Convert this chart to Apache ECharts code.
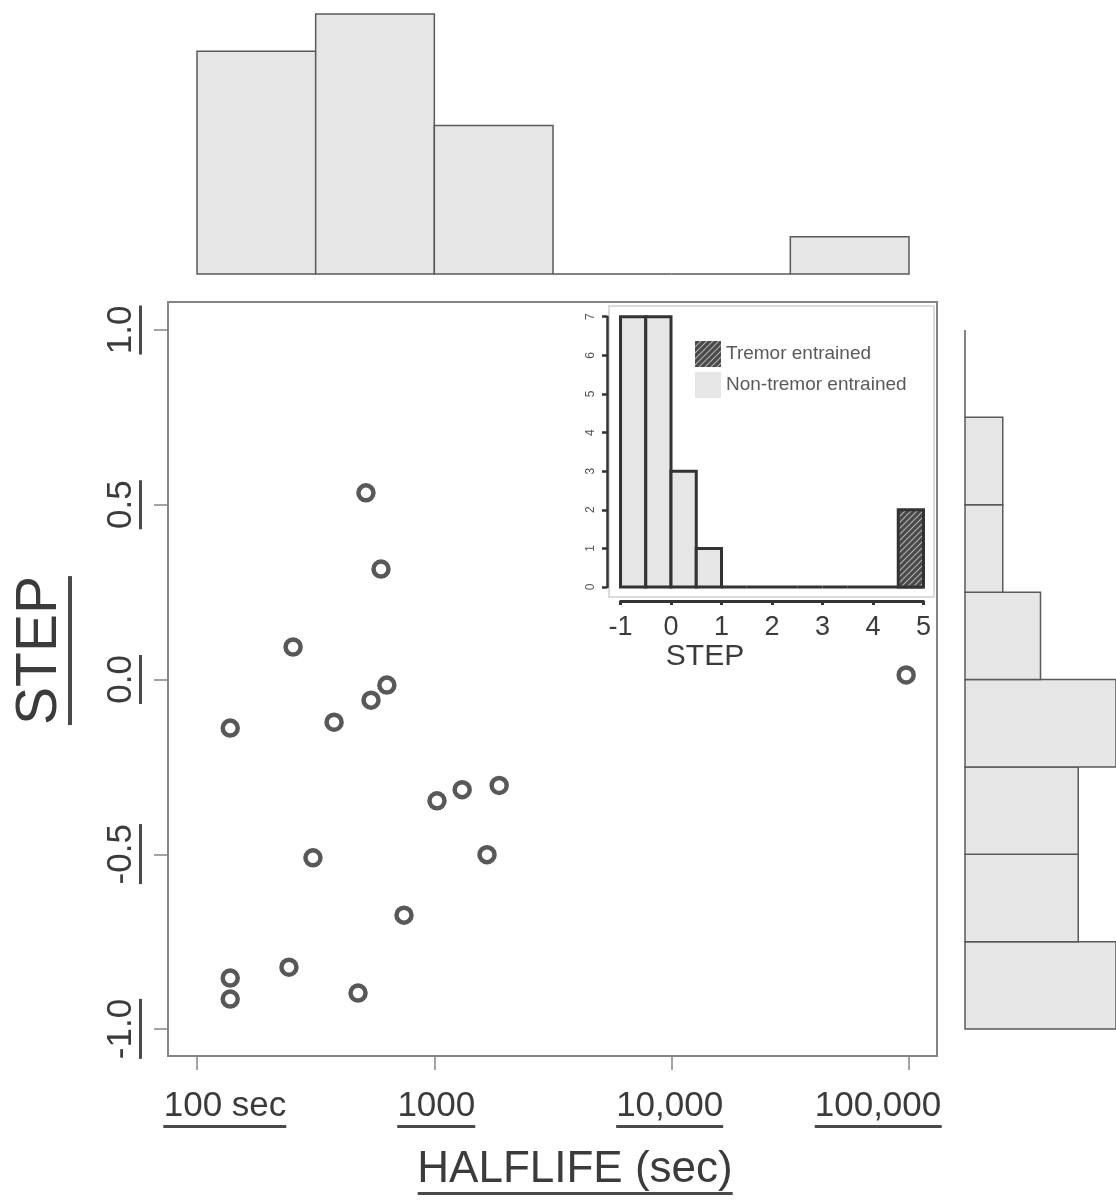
<!DOCTYPE html>
<html>
<head>
<meta charset="utf-8">
<script src="https://cdn.jsdelivr.net/npm/echarts@6/dist/echarts.min.js"></script>
<style>
  html, body { margin: 0; padding: 0; background: #fff; }
  #chart { width: 1116px; height: 1201px; }
</style>
</head>
<body>
<div id="chart"></div>
<script>
// scatter: half-life (sec) vs STEP
const halflife = [515, 596, 254, 631, 541, 378, 138, 1026, 1310, 1876, 1667, 308, 745, 244, 138, 138, 477, 97300]
const step = [0.534, 0.316, 0.093, -0.016, -0.059, -0.122, -0.139, -0.347, -0.315, -0.303, -0.501, -0.51, -0.674, -0.823, -0.854, -0.914, -0.897, 0.013]

// top histogram (log10 of half-life, half-decade bins)
const halflifeBinEdges = [2, 2.5, 3, 3.5, 4, 4.5, 5]
const halflifeCounts = [6, 7, 4, 0, 0, 1]

// right histogram (STEP, 0.25 bins)
const stepBinEdges = [-1, -0.75, -0.5, -0.25, 0, 0.25, 0.5, 0.75, 1]
const stepCounts = [4, 3, 3, 4, 2, 1, 1, 0]

// inset histogram (STEP, 0.5 bins)
const insetBinEdges = [-1, -0.5, 0, 0.5, 1, 1.5, 2, 2.5, 3, 3.5, 4, 4.5, 5]
const insetNonTremor = [7, 7, 3, 1, 0, 0, 0, 0, 0, 0, 0, 0]
const insetTremor = [0, 0, 0, 0, 0, 0, 0, 0, 0, 0, 0, 2]

// axis labels
const xTickValues = [100, 1000, 10000, 100000]
const xTickLabels = ['100 sec', '1000', '10,000', '100,000']
const xTickShift = [28, 2, -2, -31] // the outer labels sit inside the frame
const yTickValues = [-1, -0.5, 0, 0.5, 1]
const yTickLabels = ['-1.0', '-0.5', '0.0', '0.5', '1.0']

const FONT = '"Liberation Sans", Arial, sans-serif'
const TEXT = '#3b3b3b'
const ULINE = '#4a4a4a'
const FRAME = '#858585'
const HIST_FILL = '#e6e6e6'
const HIST_LINE = '#5a5a5a'
const INSET_LINE = '#333333'

const measureCtx = document.createElement('canvas').getContext('2d')
function textWidth(s, size) {
  measureCtx.font = size + 'px ' + FONT
  return Math.round(measureCtx.measureText(s).width)
}

// rich styles for underlined text; shift moves the text sideways (px)
function underlined(labels, size, lineH, thick, shifts) {
  const rich = {}
  labels.forEach((s, i) => {
    const sh = shifts ? shifts[i] : 0
    const align = sh < 0 ? 'left' : 'right'
    rich['t' + i] = {
      fontSize: size, lineHeight: lineH, color: TEXT, fontFamily: FONT, align: align,
      padding: sh < 0 ? [0, -2 * sh, 0, 0] : [0, 0, 0, 2 * sh],
    }
    rich['u' + i] = {
      width: textWidth(s, size), height: thick, lineHeight: thick,
      backgroundColor: ULINE, align: align, fontSize: 1,
    }
  })
  return rich
}
const ulText = (s, i) => '{t' + i + '|' + s + '}\n{u' + i + '| }'

// hatch pattern for tremor entrained bar
function hatch() {
  const c = document.createElement('canvas')
  c.width = 6
  c.height = 6
  const g = c.getContext('2d')
  g.fillStyle = '#4a4a4a'
  g.fillRect(0, 0, 6, 6)
  g.strokeStyle = '#b0b0b0'
  g.lineWidth = 1.1
  g.beginPath()
  g.moveTo(0, 6); g.lineTo(6, 0)
  g.moveTo(-3, 3); g.lineTo(3, -3)
  g.moveTo(3, 9); g.lineTo(9, 3)
  g.stroke()
  return { image: c, repeat: 'repeat' }
}
const HATCH = hatch()

// main plot range (a bit wider than the data, like R)
const xMin = 75.46
const xMax = 131230
const yMin = -1.077
const yMax = 1.08

const dummy = (i) => ({ type: 'value', gridIndex: i, show: false, min: 0, max: 1 })

function binRect(api, horizontal) {
  const p0 = horizontal ? api.coord([0, api.value(0)]) : api.coord([api.value(0), 0])
  const p1 = horizontal ? api.coord([api.value(2), api.value(1)]) : api.coord([api.value(1), api.value(2)])
  return { x: p0[0], y: p1[1], width: p1[0] - p0[0], height: p0[1] - p1[1] }
}

const chart = echarts.init(document.getElementById('chart'))

const option = {
  backgroundColor: '#fff',
  animation: false,
  textStyle: { fontFamily: FONT },
  grid: [
    { left: 168, top: 302, width: 769, height: 754, show: true, borderColor: FRAME, borderWidth: 2, backgroundColor: '#fff' },
    { left: 197, top: 1055, width: 712, height: 1 },
    { left: 168, top: 330, width: 1, height: 699 },
    { left: 168, top: 14, width: 769, height: 260 },
    { left: 965, top: 302, width: 151, height: 754 },
    { left: 609, top: 306, width: 325, height: 291, show: true, borderColor: '#cfcfcf', borderWidth: 1.5, backgroundColor: '#fff' },
    { left: 620.5, top: 600, width: 303, height: 1 },
    { left: 607, top: 316.7, width: 1, height: 270.3 },
  ],
  xAxis: [
    { type: 'log', gridIndex: 0, min: xMin, max: xMax, show: false },
    {
      type: 'log', gridIndex: 1, min: 100, max: 100000, position: 'bottom',
      axisLine: { show: false },
      axisTick: { length: 14, lineStyle: { color: FRAME, width: 1.5 } },
      splitLine: { show: false },
      axisLabel: {
        margin: 32,
        formatter: (v) => {
          const i = xTickValues.indexOf(Math.pow(10, Math.round(Math.log10(v))))
          return ulText(xTickLabels[i], i)
        },
        rich: underlined(xTickLabels, 35, 37, 3, xTickShift),
      },
      name: ulText('HALFLIFE (sec)', 0),
      nameLocation: 'middle',
      nameGap: 92,
      nameTextStyle: { rich: underlined(['HALFLIFE (sec)'], 44, 44, 3, [22]) },
    },
    dummy(2),
    { type: 'log', gridIndex: 3, min: xMin, max: xMax, show: false },
    { type: 'value', gridIndex: 4, min: 0, max: 4, show: false },
    { type: 'value', gridIndex: 5, min: -1.228, max: 5.208, show: false },
    {
      type: 'value', gridIndex: 6, min: -1, max: 5, interval: 1, position: 'bottom',
      axisLine: { lineStyle: { color: INSET_LINE, width: 3 } },
      axisTick: { length: 4, lineStyle: { color: INSET_LINE, width: 3 } },
      splitLine: { show: false },
      axisLabel: { margin: 13, fontSize: 27, color: TEXT, fontFamily: FONT },
      name: '{t|STEP}',
      nameLocation: 'middle',
      nameGap: 39,
      nameTextStyle: { rich: { t: { fontSize: 30, lineHeight: 30, color: TEXT, fontFamily: FONT, padding: [0, 134, 0, 0] } } },
    },
    dummy(7),
  ],
  yAxis: [
    { type: 'value', gridIndex: 0, min: yMin, max: yMax, show: false },
    dummy(1),
    {
      type: 'value', gridIndex: 2, min: -1, max: 1, interval: 0.5, position: 'left',
      axisLine: { show: false },
      axisTick: { length: 14, lineStyle: { color: FRAME, width: 1.5 } },
      splitLine: { show: false },
      axisLabel: {
        rotate: 90,
        margin: 26,
        formatter: (v) => {
          const i = yTickValues.indexOf(Math.round(v * 2) / 2)
          return ulText(yTickLabels[i], i)
        },
        rich: underlined(yTickLabels, 35, 36, 3),
      },
      name: ulText('STEP', 0),
      nameLocation: 'middle',
      nameRotate: 90,
      nameGap: 96,
      nameTextStyle: { rich: underlined(['STEP'], 57, 56, 4, [29]) },
    },
    { type: 'value', gridIndex: 3, min: 0, max: 7, show: false },
    { type: 'value', gridIndex: 4, min: yMin, max: yMax, show: false },
    { type: 'value', gridIndex: 5, min: -0.259, max: 7.277, show: false },
    dummy(6),
    {
      type: 'value', gridIndex: 7, min: 0, max: 7, interval: 1, position: 'left',
      axisLine: { lineStyle: { color: INSET_LINE, width: 2.5 } },
      axisTick: { length: 5, lineStyle: { color: INSET_LINE, width: 2.5 } },
      splitLine: { show: false },
      axisLabel: { rotate: 90, margin: 10, fontSize: 12, color: '#555', fontFamily: FONT },
    },
  ],
  legend: {
    left: 690,
    top: 336,
    orient: 'vertical',
    itemWidth: 26,
    itemHeight: 26,
    itemGap: 5,
    textStyle: { fontSize: 19, color: '#5a5a5a', fontFamily: FONT },
    itemStyle: { borderWidth: 0 },
    data: [
      { name: 'Tremor entrained', icon: 'rect' },
      { name: 'Non-tremor entrained', icon: 'rect' },
    ],
  },
  series: [
    {
      type: 'scatter',
      xAxisIndex: 0,
      yAxisIndex: 0,
      data: halflife.map((h, i) => [h, step[i]]),
      symbol: 'circle',
      symbolSize: 15,
      itemStyle: { color: '#fff', borderColor: '#2e2e2e', borderWidth: 4.5 },
      z: 3,
    },
    {
      // top histogram
      type: 'custom',
      xAxisIndex: 3,
      yAxisIndex: 3,
      data: halflifeCounts.map((c, i) => [Math.pow(10, halflifeBinEdges[i]), Math.pow(10, halflifeBinEdges[i + 1]), c]),
      encode: { x: [0, 1], y: 2 },
      renderItem: (params, api) => ({
        type: 'rect',
        shape: binRect(api, false),
        style: { fill: HIST_FILL, stroke: HIST_LINE, lineWidth: 1.5 },
      }),
    },
    {
      // right histogram
      type: 'custom',
      xAxisIndex: 4,
      yAxisIndex: 4,
      data: stepCounts.map((c, i) => [stepBinEdges[i], stepBinEdges[i + 1], c]),
      encode: { y: [0, 1], x: 2 },
      renderItem: (params, api) => ({
        type: 'rect',
        shape: binRect(api, true),
        style: { fill: HIST_FILL, stroke: HIST_LINE, lineWidth: 1.5 },
      }),
    },
    {
      name: 'Non-tremor entrained',
      type: 'custom',
      xAxisIndex: 5,
      yAxisIndex: 5,
      itemStyle: { color: HIST_FILL },
      data: insetNonTremor.map((c, i) => [insetBinEdges[i], insetBinEdges[i + 1], c]),
      encode: { x: [0, 1], y: 2 },
      renderItem: (params, api) => ({
        type: 'rect',
        shape: binRect(api, false),
        style: { fill: HIST_FILL, stroke: INSET_LINE, lineWidth: 3 },
      }),
      z: 4,
    },
    {
      name: 'Tremor entrained',
      type: 'custom',
      xAxisIndex: 5,
      yAxisIndex: 5,
      itemStyle: { color: HATCH },
      data: insetTremor.map((c, i) => [insetBinEdges[i], insetBinEdges[i + 1], c]),
      encode: { x: [0, 1], y: 2 },
      renderItem: (params, api) => {
        if (!api.value(2)) return null
        return {
          type: 'rect',
          shape: binRect(api, false),
          style: { fill: HATCH, stroke: INSET_LINE, lineWidth: 3 },
        }
      },
      z: 5,
    },
  ],
}

chart.setOption(option)
</script>
</body>
</html>
